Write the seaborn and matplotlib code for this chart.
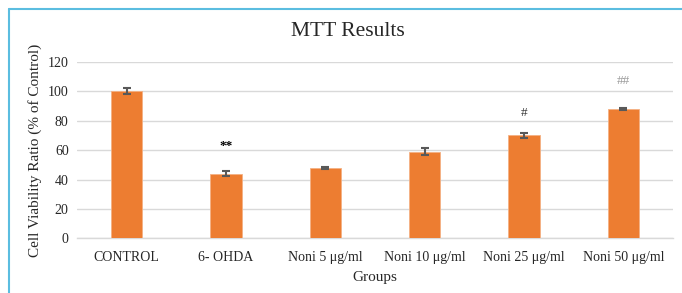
import numpy as np
import pandas as pd
import seaborn as sns
import matplotlib.pyplot as plt
from matplotlib.lines import Line2D

groups = ['CONTROL', '6- OHDA', 'Noni 5 μg/ml', 'Noni 10 μg/ml', 'Noni 25 μg/ml', 'Noni 50 μg/ml']
viability = [100, 44, 48, 59, 70, 88]
errors = [2, 1.8, 0.7, 2.2, 1.5, 1.0]
marks = ['', '**', '', '', '#', '##']
mark_heights = [0, 63, 0, 0, 85, 107]
mark_colors = ['black', 'black', 'black', 'black', '#333333', '#999999']

df = pd.DataFrame({'Groups': groups, 'Viability': viability})

sns.set_style('white')
plt.rcParams['font.family'] = ['Liberation Serif', 'DejaVu Serif']

fig = plt.figure(figsize=(6.82, 2.93), dpi=100)
ax = fig.add_axes([77 / 682, 1 - 238.3 / 293, 596 / 682, 176.3 / 293])

sns.barplot(data=df, x='Groups', y='Viability', color='#ED7D31', saturation=1,
            width=0.316, edgecolor='#F4B183', linewidth=0.6, errorbar=None, ax=ax, zorder=3)

# error bars
ax.errorbar(np.arange(len(groups)), viability, yerr=errors, fmt='none',
            ecolor='#595959', elinewidth=1.5, capsize=3, capthick=1.5, zorder=4)

# significance marks
for i, (m, h, c) in enumerate(zip(marks, mark_heights, mark_colors)):
    if m:
        ax.text(i, h, m, ha='center', va='center', fontsize=9.5, color=c,
                fontweight='bold' if m == '**' else 'normal')

ax.set_ylim(0, 120)
ax.set_xlim(-0.5, 5.5)
ax.set_yticks(range(0, 121, 20))
ax.yaxis.grid(True, color='#d9d9d9', linewidth=1)
ax.set_axisbelow(True)
for s in ['left', 'right', 'top']:
    ax.spines[s].set_visible(False)
ax.spines['bottom'].set_color('#d9d9d9')
ax.spines['bottom'].set_linewidth(1)
ax.tick_params(axis='both', length=0, labelsize=10, colors='#262626')
ax.tick_params(axis='x', pad=9)
ax.tick_params(axis='y', pad=6)

ax.set_xlabel('Groups', fontsize=11, labelpad=5)
ax.set_ylabel('Cell Viability Ratio (% of Control)', fontsize=11, labelpad=4)
fig.text(347.5 / 682, 1 - 32 / 293, 'MTT Results', ha='center', va='center', fontsize=15.5)

# blue frame on left and top
fig.add_artist(Line2D([8.5 / 682, 8.5 / 682], [0, 1 - 9 / 293], color='#5BBDE0', linewidth=1.5))
fig.add_artist(Line2D([8.5 / 682, 1], [1 - 9 / 293, 1 - 9 / 293], color='#5BBDE0', linewidth=1.5))

fig.savefig('out.png', dpi=100)
